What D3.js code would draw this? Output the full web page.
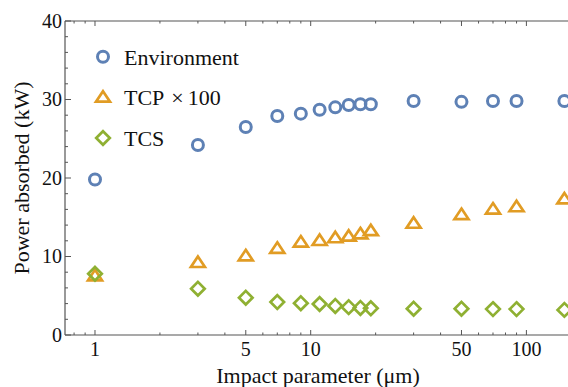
<!DOCTYPE html>
<html>
<head>
<meta charset="utf-8">
<script src="https://cdn.jsdelivr.net/npm/d3@7"></script>
<style>
  html, body { margin: 0; padding: 0; background: #fff; }
  svg { display: block; }
</style>
</head>
<body>
<div class="chart"></div>
<script>
'use strict';

// data
const impact = [1, 3, 5, 7, 9, 11, 13, 15, 17, 19, 30, 50, 70, 90, 150];
const environment = [19.8, 24.2, 26.5, 27.9, 28.2, 28.7, 29.0, 29.3, 29.4, 29.4, 29.8, 29.7, 29.8, 29.8, 29.8];
const tcp = [7.6, 9.3, 10.15, 11.1, 11.9, 12.1, 12.45, 12.65, 12.95, 13.35, 14.3, 15.4, 16.1, 16.4, 17.4];
const tcs = [7.8, 5.9, 4.75, 4.2, 4.05, 3.95, 3.7, 3.55, 3.45, 3.4, 3.35, 3.35, 3.3, 3.3, 3.2];
const seriesNames = ["Environment", "TCP", "TCS"];
const xMajor = [1, 5, 10, 50, 100];
const xMinor = [0.8, 0.9, 2, 3, 4, 6, 7, 8, 9, 20, 30, 40, 60, 70, 80, 90];
const yMajor = [0, 10, 20, 30, 40];
const yMinor = [2, 4, 6, 8, 12, 14, 16, 18, 22, 24, 26, 28, 32, 34, 36, 38];

document.addEventListener('DOMContentLoaded', () => {
  const W = 568, H = 387;
  const left = 65, top = 21, bottom = 335, right = 568;

  const colors = {Environment: "#5E81B5", TCP: "#E19C24", TCS: "#8FB032"};
  const frameColor = "#555";
  const serif = '"Liberation Serif"';

  const svg = d3.select(".chart").append("svg")
    .attr("width", W).attr("height", H);

  // scales
  const xScale = d3.scaleLog().domain([0.726, 155.9]).range([left, right]);
  const yScale = d3.scaleLinear().domain([0, 40]).range([bottom, top]);

  // frame lines
  svg.append("line").attr("x1", left).attr("x2", W).attr("y1", bottom).attr("y2", bottom)
    .attr("stroke", frameColor).attr("stroke-width", 1.2);
  svg.append("line").attr("x1", left).attr("x2", W).attr("y1", top).attr("y2", top)
    .attr("stroke", frameColor).attr("stroke-width", 1.2);
  svg.append("line").attr("x1", left).attr("x2", left).attr("y1", top).attr("y2", bottom)
    .attr("stroke", frameColor).attr("stroke-width", 1.2);

  // x ticks, bottom and top, pointing inward
  const xt = svg.append("g");
  [[xMajor, 5], [xMinor, 2.5]].forEach(([vals, len]) => {
    vals.forEach(v => {
      const x = xScale(v);
      xt.append("line").attr("x1", x).attr("x2", x).attr("y1", bottom).attr("y2", bottom - len)
        .attr("stroke", frameColor).attr("stroke-width", 1);
      xt.append("line").attr("x1", x).attr("x2", x).attr("y1", top).attr("y2", top + len)
        .attr("stroke", frameColor).attr("stroke-width", 1);
    });
  });
  xt.selectAll("text").data(xMajor).enter().append("text")
    .attr("x", d => xScale(d)).attr("y", 356)
    .attr("text-anchor", "middle").attr("font-size", 20).attr("fill", "#111")
    .style("font-family", serif)
    .text(d => d);

  // y ticks
  const yt = svg.append("g");
  [[yMajor, 6], [yMinor, 3]].forEach(([vals, len]) => {
    vals.forEach(v => {
      const y = yScale(v);
      yt.append("line").attr("x1", left).attr("x2", left + len).attr("y1", y).attr("y2", y)
        .attr("stroke", frameColor).attr("stroke-width", 1);
    });
  });
  yt.selectAll("text").data(yMajor).enter().append("text")
    .attr("x", 62).attr("y", d => yScale(d)).attr("dy", "0.34em")
    .attr("text-anchor", "end").attr("font-size", 20).attr("fill", "#111")
    .style("font-family", serif)
    .text(d => d);

  // axis titles
  svg.append("text")
    .attr("x", 318).attr("y", 383)
    .attr("text-anchor", "middle").attr("font-size", 22).attr("fill", "#111")
    .style("font-family", serif)
    .text("Impact parameter (\u03BCm)");
  svg.append("text")
    .attr("transform", "translate(29,178) rotate(-90)")
    .attr("text-anchor", "middle").attr("font-size", 22).attr("fill", "#111")
    .style("font-family", serif)
    .text("Power absorbed (kW)");

  // marker shapes
  const triPath = "M0,-5.5L7,5L-7,5Z";
  const diaPath = "M0,-6.8L6.8,0L0,6.8L-6.8,0Z";

  function drawCircle(g, x, y, c) {
    g.append("circle").attr("cx", x).attr("cy", y).attr("r", 5.5)
      .attr("fill", "none").attr("stroke", c).attr("stroke-width", 3);
  }
  function drawTri(g, x, y, c) {
    g.append("path").attr("d", triPath).attr("transform", `translate(${x},${y})`)
      .attr("fill", "none").attr("stroke", c).attr("stroke-width", 2.7)
      .attr("stroke-linejoin", "miter");
  }
  function drawDia(g, x, y, c) {
    g.append("path").attr("d", diaPath).attr("transform", `translate(${x},${y})`)
      .attr("fill", "none").attr("stroke", c).attr("stroke-width", 2.7);
  }

  // points (TCP first so the TCS diamond sits on top at x=1)
  const pts = svg.append("g");
  impact.forEach((d, i) => drawTri(pts, xScale(d), yScale(tcp[i]), colors.TCP));
  impact.forEach((d, i) => drawDia(pts, xScale(d), yScale(tcs[i]), colors.TCS));
  impact.forEach((d, i) => drawCircle(pts, xScale(d), yScale(environment[i]), colors.Environment));

  // legend
  const lg = svg.append("g");
  const legendY = [56.7, 96.7, 138];
  drawCircle(lg, 103, legendY[0], colors.Environment);
  drawTri(lg, 103, legendY[1], colors.TCP);
  drawDia(lg, 103, legendY[2], colors.TCS);
  lg.append("text").attr("x", 124).attr("y", 64.5).attr("font-size", 22).attr("fill", "#111")
    .style("font-family", serif)
    .text(seriesNames[0]);
  const t2 = lg.append("text").attr("x", 124).attr("y", 104.5).attr("font-size", 22).attr("fill", "#111")
    .style("font-family", serif);
  t2.append("tspan").text(seriesNames[1]);
  t2.append("tspan").attr("dx", 7).text("\u00D7");
  t2.append("tspan").attr("dx", 4).text("100");
  lg.append("text").attr("x", 124).attr("y", 145.5).attr("font-size", 22).attr("fill", "#111")
    .style("font-family", serif)
    .text(seriesNames[2]);
});
</script>
</body>
</html>
